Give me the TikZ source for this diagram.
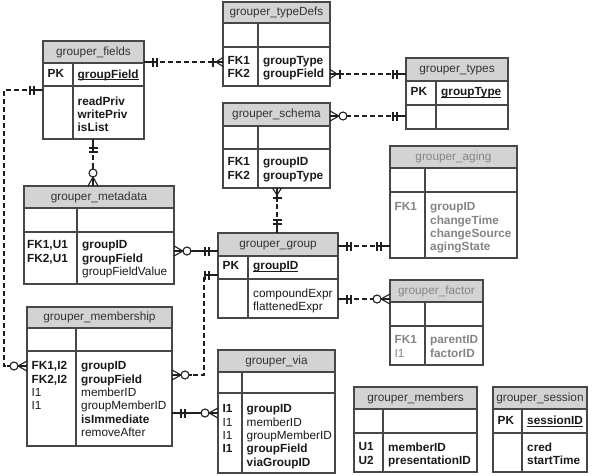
\documentclass[tikz,border=0pt]{standalone}
\usepackage{fontspec}
\setmainfont{Liberation Sans}
\usetikzlibrary{fit,calc}
\definecolor{hdrcol}{HTML}{D3D3D3}
\definecolor{bordercol}{HTML}{474747}
\definecolor{txtcol}{HTML}{1A1A1A}
\definecolor{graytxt}{HTML}{858585}
\definecolor{titlecol}{HTML}{333333}
\definecolor{linecol}{HTML}{1F1F1F}
\newcommand{\erul}[1]{\setbox0\hbox{#1}\rlap{\rule[-1.8pt]{\wd0}{0.8pt}}\box0}
\tikzset{
  tbl/.style={draw=bordercol, line width=1.2pt, inner sep=0pt, outer sep=0pt},
  tblline/.style={draw=bordercol, line width=1.2pt},
  hdr/.style={fill=hdrcol},
  ttl/.style={anchor=base, inner sep=0pt, font=\fontsize{11.8}{13.3}\selectfont, text=titlecol},
  cell/.style={anchor=north west, yshift=8.45pt, inner sep=0pt, align=left, font=\fontsize{11.8}{13.3}\selectfont, text=txtcol},
  cellb/.style={cell, font=\fontsize{11.8}{13.3}\selectfont\bfseries},
  rel/.style={draw=linecol, line width=1.1pt, dash pattern=on 5pt off 3pt},
  relsolid/.style={draw=linecol, line width=1.1pt},
  pics/erone/.style={code={
    \draw[relsolid] (0,0) -- (14,0);
    \draw[relsolid] (9,-4.5) -- (9,4.5);
    \draw[relsolid] (13,-4.5) -- (13,4.5);
  }},
  pics/erzmany/.style={code={
    \draw[relsolid] (0,-5) -- (9,0) -- (0,5);
    \draw[relsolid] (0,0) -- (9,0);
    \draw[relsolid,fill=white] (13,0) circle (4);
    \draw[relsolid] (17,0) -- (20,0);
  }},
  pics/eromany/.style={code={
    \draw[relsolid] (0,-4.5) -- (7,0) -- (0,4.5);
    \draw[relsolid] (0,0) -- (14,0);
    \draw[relsolid] (10,-4.5) -- (10,4.5);
  }},
}
% name, x0, y0, x1, y1, header bottom, row bottom, divider x, title
\newcommand{\ertable}[9]{%
  \fill[hdr] (#2,#3) rectangle (#4,#6);
  \node[tbl, fit={(#2,#3) (#4,#5)}] (#1) {};
  \draw[tblline] (#2,#6) -- (#4,#6) (#2,#7) -- (#4,#7) (#8,#6) -- (#8,#5);
  \node[ttl] (#1-t) at ({(#2+#4)/2},{(#3+#6)/2+3.4}) {#9};
}
\begin{document}
\begin{tikzpicture}[x=1pt,y=-1pt]
\fill[white] (0,0) rectangle (592,475);
\useasboundingbox (0,0) rectangle (592,475);

% ---------- tables ----------
\ertable{fields}{43}{41}{144}{139}{63}{86}{73}{grouper\_fields}
\node[cellb] (fields-k) at (47.5,78) {PK};
\node[cellb] (fields-n) at (77.5,78) {\erul{groupField}};
\node[cellb] (fields-a) at (77.5,105) {readPriv\\writePriv\\isList};

\ertable{typedefs}{223}{2}{330}{86}{23}{47}{258}{grouper\_typeDefs}
\node[cellb] (typedefs-k) at (227.5,64.5) {FK1\\FK2};
\node[cellb] (typedefs-a) at (263,64.5) {groupType\\groupField};

\ertable{types}{406}{58}{508}{129}{81}{105}{436}{grouper\_types}
\node[cellb] (types-k) at (410.5,96) {PK};
\node[cellb] (types-n) at (441,96) {\erul{groupType}};

\ertable{schema}{223}{103}{330}{188}{126}{149}{258}{grouper\_schema}
\node[cellb] (schema-k) at (227.5,166) {FK1\\FK2};
\node[cellb] (schema-a) at (263,166) {groupID\\groupType};

\ertable{aging}{390}{146}{517}{258}{168}{192}{425}{\textcolor{graytxt}{grouper\_aging}}
\node[cellb, text=graytxt] (aging-k) at (394.5,211) {FK1};
\node[cellb, text=graytxt] (aging-a) at (430,211) {groupID\\changeTime\\changeSource\\agingState};

\ertable{metadata}{24}{186}{174}{284}{208}{232}{77}{grouper\_metadata}
\node[cellb] (metadata-k) at (27,249) {FK1,U1\\FK2,U1};
\node[cell] (metadata-a) at (82,249) {\textbf{groupID}\\\textbf{groupField}\\groupFieldValue};

\ertable{group}{218}{233}{338}{318}{256}{279}{248}{grouper\_group}
\node[cellb] (group-k) at (222.5,270) {PK};
\node[cellb] (group-n) at (253,270) {\erul{groupID}};
\node[cell] (group-a) at (253,297) {compoundExpr\\flattenedExpr};

\ertable{factor}{390}{280}{483}{365}{302}{326}{425}{\textcolor{graytxt}{grouper\_factor}}
\node[cell, text=graytxt] (factor-k) at (394.5,344) {\textbf{FK1}\\I1};
\node[cellb, text=graytxt] (factor-a) at (430,344) {parentID\\factorID};

\ertable{membership}{27}{307}{172}{446}{328}{351}{76}{grouper\_membership}
\node[cell] (membership-k) at (31.5,370) {\textbf{FK1,I2}\\\textbf{FK2,I2}\\I1\\I1};
\node[cell] (membership-a) at (81,370) {\textbf{groupID}\\\textbf{groupField}\\memberID\\groupMemberID\\\textbf{isImmediate}\\removeAfter};

\ertable{via}{218}{350}{335}{473}{372}{393}{242}{grouper\_via}
\node[cell] (via-k) at (222.5,413) {\textbf{I1}\\I1\\I1\\\textbf{I1}};
\node[cell] (via-a) at (246.5,413) {\textbf{groupID}\\memberID\\groupMemberID\\\textbf{groupField}\\\textbf{viaGroupID}};

\ertable{members}{354}{387}{477}{472}{409}{433}{383}{grouper\_members}
\node[cellb] (members-k) at (358.5,451) {U1\\U2};
\node[cellb] (members-a) at (388,451) {memberID\\presentationID};

\ertable{session}{493}{387}{587}{472}{409}{433}{522}{grouper\_session}
\node[cellb] (session-k) at (497.5,424.5) {PK};
\node[cellb] (session-n) at (527,424.5) {\erul{sessionID}};
\node[cellb] (session-a) at (527,451) {cred\\startTime};

% ---------- relationships ----------
% fields -> typeDefs
\coordinate (r1a) at ($(fields.north east)+(0,21)$);
\coordinate (r1b) at ($(typedefs.north west)+(0,60)$);
\draw[rel] (r1a) -- (r1b);
\pic[rotate=0] at (r1a) {erone};
\pic[rotate=180] at (r1b) {eromany};

% typeDefs -> types
\coordinate (r2a) at ($(typedefs.north east)+(0,72)$);
\coordinate (r2b) at ($(types.north west)+(0,16)$);
\draw[rel] (r2a) -- (r2b);
\pic[rotate=0] at (r2a) {eromany};
\pic[rotate=180] at (r2b) {erone};

% schema -> types
\coordinate (r3a) at ($(schema.north east)+(0,13)$);
\coordinate (r3b) at ($(types.north west)+(0,58)$);
\draw[rel] (r3a) -- (r3b);
\pic[rotate=0] at (r3a) {erzmany};
\pic[rotate=180] at (r3b) {erone};

% fields -> metadata
\coordinate (r4a) at ($(fields.south west)+(50,0)$);
\coordinate (r4b) at ($(metadata.north west)+(69,0)$);
\draw[rel] (r4a) -- (r4b);
\pic[rotate=-90] at (r4a) {erone};
\pic[rotate=90] at (r4b) {erzmany};

% schema -> group
\coordinate (r5a) at ($(schema.south west)+(54,0)$);
\coordinate (r5b) at ($(group.north west)+(59,0)$);
\draw[rel] (r5a) -- (r5b);
\pic[rotate=-90] at (r5a) {eromany};
\pic[rotate=90] at (r5b) {erone};

% metadata -> group
\coordinate (r6a) at ($(metadata.north east)+(0,65)$);
\coordinate (r6b) at ($(group.north west)+(0,18)$);
\draw[relsolid] (r6a) -- (r6b);
\pic[rotate=0] at (r6a) {erzmany};
\pic[rotate=180] at (r6b) {erone};

% group -> aging
\coordinate (r7a) at ($(group.north east)+(0,13)$);
\coordinate (r7b) at ($(aging.north west)+(0,100)$);
\draw[rel] (r7a) -- (r7b);
\pic[rotate=0] at (r7a) {erone};
\pic[rotate=180] at (r7b) {erone};

% group -> factor
\coordinate (r8a) at ($(group.north east)+(0,66)$);
\coordinate (r8b) at ($(factor.north west)+(0,19)$);
\draw[rel] (r8a) -- (r8b);
\pic[rotate=0] at (r8a) {erone};
\pic[rotate=180] at (r8b) {erzmany};

% fields -> membership
\coordinate (r9a) at ($(fields.north west)+(0,49)$);
\coordinate (r9b) at ($(membership.north west)+(0,59)$);
\draw[rel] (r9a) -- ++(-39,0) |- (r9b);
\pic[rotate=180] at (r9a) {erone};
\pic[rotate=180] at (r9b) {erzmany};

% group -> membership
\coordinate (r10a) at ($(group.north west)+(0,42)$);
\coordinate (r10b) at ($(membership.north east)+(0,68)$);
\draw[rel] (r10a) -- ++(-14,0) |- (r10b);
\pic[rotate=180] at (r10a) {erone};
\pic[rotate=0] at (r10b) {erzmany};

% membership -> via
\coordinate (r11a) at ($(membership.north east)+(0,106)$);
\coordinate (r11b) at ($(via.north west)+(0,63)$);
\draw[relsolid] (r11a) -- (r11b);
\pic[rotate=0] at (r11a) {erone};
\pic[rotate=180] at (r11b) {erzmany};
\end{tikzpicture}
\end{document}
